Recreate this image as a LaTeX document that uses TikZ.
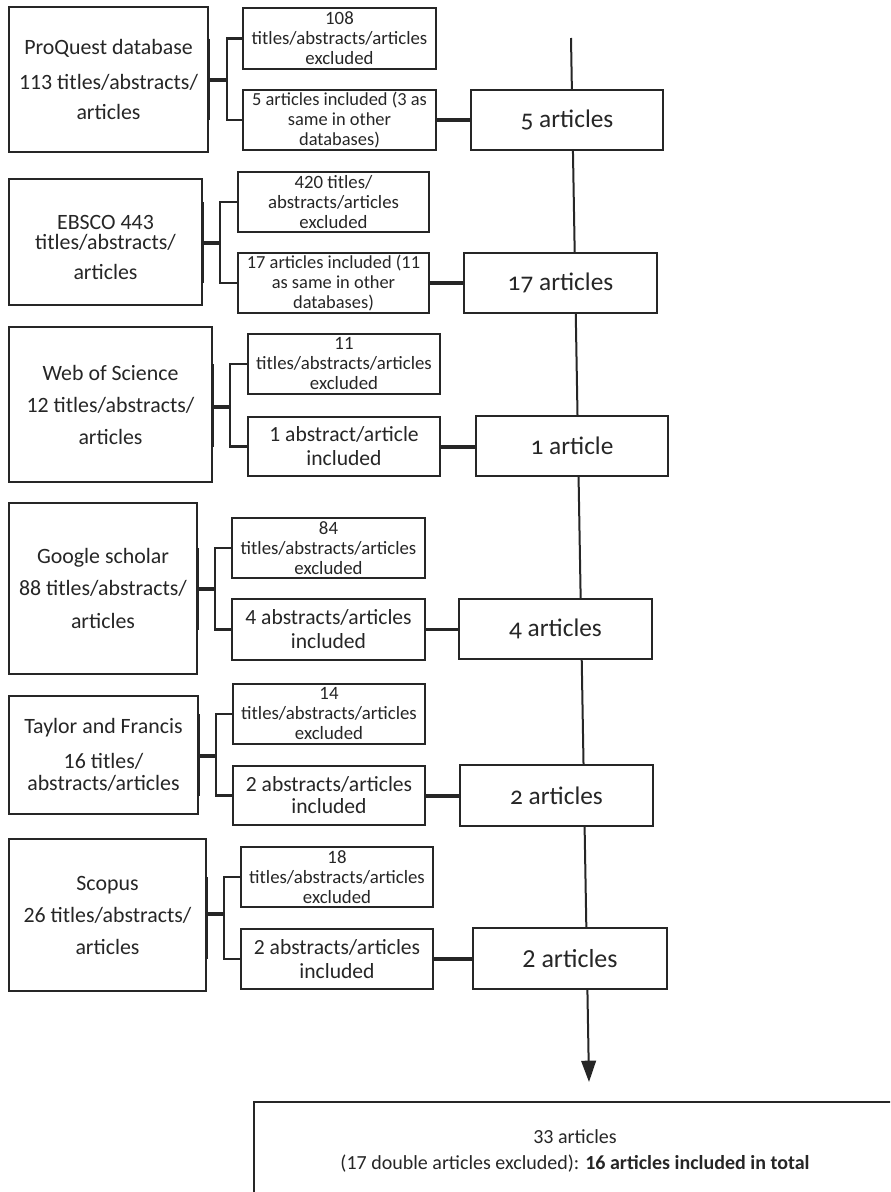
\documentclass[tikz,border=0pt]{standalone}
\usepackage{fontspec}
\setmainfont{Carlito}
\newfontfamily\oldnum[Numbers=OldStyle]{Carlito}
\usetikzlibrary{arrows.meta,calc}
\definecolor{ink}{HTML}{262626}
\tikzset{
  box/.style={draw=ink, line width=1.25pt, fill=white, inner sep=0pt, align=center, text=ink},
  rect/.style args={#1:#2:#3:#4}{minimum width={(#3-#1)*0.75pt}, minimum height={(#4-#2)*0.75pt},
     at={({(#1+#3)/2},{(#2+#4)/2})}},
  dbbox/.style={box, font=\fontsize{16.4}{24}\selectfont},
  exbox/.style={box, font=\fontsize{14.1}{15}\selectfont},
  incbox/.style={box, font=\fontsize{13.8}{15}\selectfont},
  incbig/.style={box, font=\fontsize{16.2}{18}\selectfont},
  artbox/.style={box, font=\fontsize{19}{22}\selectfont},
  brk/.style={draw=ink, line width=1.6pt},
  stem/.style={draw=ink, line width=3pt},
  thinlink/.style={draw=ink, line width=1.7pt},
  flow/.style={draw=ink, line width=1.5pt, -{Triangle[length=16pt,width=11pt]}},
}
\newcommand\rowlinks[5]{%
  \draw[brk] (#1.east |- #2.west) -- (#1.east |- #3.west);
  \draw[stem] (#1.east |- #1j) -- (#1j);
  \draw[brk] (#2.west) -| (#1j) |- (#3.west);
  \draw[#5] (#3.east) -- (#3.east -| #4.west);}
\begin{document}
\begin{tikzpicture}[x=0.75pt, y=-0.75pt]
\useasboundingbox (0,0) rectangle (890,1192);
\clip (0,0) rectangle (890,1192);

% main flow line (behind the article boxes)
\coordinate (start) at (571,38);
\coordinate (tip) at (589,1082);
\draw[flow] (start) -- (tip);

% Row 1: ProQuest
\node[dbbox, rect=9:7:208:152] (pq) {ProQuest database\\[2pt]113 titles/abstracts/\\[-1pt]articles};
\node[exbox, rect=243:8:436:69] (pqx) {108\\titles/abstracts/articles\\excluded};
\node[incbox, rect=243:90:436:150] (pqi) {5 articles included (3 as\\same in other\\databases)};
\node[artbox, rect=471:90:663:150] (pqa) {{\oldnum 5} articles};
\coordinate (pqj) at (227,80);
\rowlinks{pq}{pqx}{pqi}{pqa}{stem}

% Row 2: EBSCO
\node[dbbox, rect=9:179:202:305, text height=56pt, text depth=0pt] (eb) {EBSCO 443\\[-9pt]titles/abstracts/\\[-1.5pt]articles};
\node[exbox, rect=238:172:429:232] (ebx) {420 titles/\\abstracts/articles\\excluded};
\node[incbox, rect=238:253:429:313] (ebi) {17 articles included (11\\as same in other\\databases)};
\node[artbox, rect=464:253:657:313] (eba) {{\oldnum 17} articles};
\coordinate (ebj) at (220,243);
\rowlinks{eb}{ebx}{ebi}{eba}{stem}

% Row 3: Web of Science
\node[dbbox, rect=9:327:212:482] (ws) {Web of Science\\12 titles/abstracts/\\articles};
\node[exbox, rect=248:334:440:394] (wsx) {11\\titles/abstracts/articles\\excluded};
\node[incbig, rect=248:417:440:476] (wsi) {1 abstract/article\\included};
\node[artbox, rect=476:416:668:476] (wsa) {{\oldnum 1} article};
\coordinate (wsj) at (230,407);
\rowlinks{ws}{wsx}{wsi}{wsa}{stem}

% Row 4: Google scholar
\node[dbbox, rect=9:503:197:674] (gs) {Google scholar\\88 titles/abstracts/\\[1pt]articles};
\node[exbox, rect=232:518:425:578] (gsx) {84\\titles/abstracts/articles\\excluded};
\node[incbig, rect=232:599:425:660] (gsi) {4 abstracts/articles\\included};
\node[artbox, rect=459:599:652:659] (gsa) {{\oldnum 4} articles};
\coordinate (gsj) at (215,589);
\rowlinks{gs}{gsx}{gsi}{gsa}{thinlink}

% Row 5: Taylor and Francis
\node[dbbox, rect=9:696:198:814] (tf) {Taylor and Francis\\[2pt]16 titles/\\[-7.5pt]abstracts/articles};
\node[exbox, rect=233:684:425:744] (tfx) {14\\titles/abstracts/articles\\excluded};
\node[incbig, rect=233:766:425:825] (tfi) {2 abstracts/articles\\[-1.5pt]included};
\node[artbox, rect=460:765:653:826] (tfa) {{\oldnum 2} articles};
\coordinate (tfj) at (216,756);
\rowlinks{tf}{tfx}{tfi}{tfa}{stem}

% Row 6: Scopus
\node[dbbox, rect=9:839:206:991] (sc) {Scopus\\26 titles/abstracts/\\articles};
\node[exbox, rect=241:847:433:907] (scx) {18\\titles/abstracts/articles\\excluded};
\node[incbig, rect=241:929:433:989] (sci) {2 abstracts/articles\\included};
\node[artbox, font=\fontsize{19.5}{22}\selectfont, rect=473:928:667:989] (sca) {2 articles};
\coordinate (scj) at (224,914);
\rowlinks{sc}{scx}{sci}{sca}{stem}

% Total
\node[box, line width=1.6pt, font=\fontsize{15}{19.5}\selectfont, rect=254:1102:896:1200] (total)
  {33 articles\\(17 double articles excluded): \textbf{16 articles included in total}};
\end{tikzpicture}
\end{document}
